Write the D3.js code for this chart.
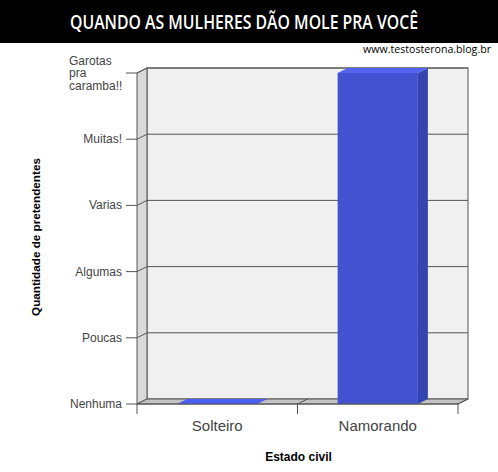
<!DOCTYPE html>
<html>
<head>
<meta charset="utf-8">
<script src="https://cdn.jsdelivr.net/npm/d3@7"></script>
<style>
  body { margin: 0; background: #fff; }
  svg { display: block; }
</style>
</head>
<body>
<div id="chart"></div>
<script>
// chart data
var categories = ["Solteiro", "Namorando"];
var values = [0, 5];
var levels = ["Nenhuma", "Poucas", "Algumas", "Varias", "Muitas!", "Garotas pra caramba!!"];
var title = "QUANDO AS MULHERES DÃO MOLE PRA VOCÊ";
var credit = "www.testosterona.blog.br";
var xTitle = "Estado civil";
var yTitle = "Quantidade de pretendentes";

var width = 498, height = 472;
var dx = 10, dy = 5; // 3d depth offset
var plotLeft = 137, plotRight = 458, plotBottom = 404, plotTop = 73;

var svg = d3.select("#chart").append("svg")
  .attr("width", width).attr("height", height)
  .style("font-family", "'Liberation Sans', Arial, sans-serif");

// header band
svg.append("rect").attr("x", 0).attr("y", 0).attr("width", width).attr("height", 43).attr("fill", "#000");
svg.append("text").attr("x", 244).attr("y", 28.5).attr("text-anchor", "middle")
  .attr("fill", "#fff").style("font-family", "'Open Sans', sans-serif").style("font-size", "19px")
  .style("font-weight", "600")
  .attr("textLength", 348).attr("lengthAdjust", "spacingAndGlyphs")
  .text(title);
svg.append("text").attr("x", 491).attr("y", 53).attr("text-anchor", "end")
  .attr("fill", "#000").style("font-family", "'Open Sans', sans-serif").style("font-size", "11px")
  .attr("textLength", 128).attr("lengthAdjust", "spacingAndGlyphs")
  .text(credit);

var x = d3.scaleBand().domain(categories).range([plotLeft, plotRight]).paddingInner(0.5).paddingOuter(0.25);
var y = d3.scaleLinear().domain([0, levels.length - 1]).range([plotBottom, plotTop]);
var ticks = d3.range(levels.length);
var yMax = levels.length - 1;

var line = "#555";

// back wall
svg.append("rect")
  .attr("x", plotLeft + dx).attr("y", y(yMax) - dy)
  .attr("width", plotRight - plotLeft).attr("height", y(0) - y(yMax))
  .attr("fill", "#f0f0f0").attr("stroke", line);

// left wall
svg.append("polygon")
  .attr("points", [[plotLeft, y(yMax)], [plotLeft + dx, y(yMax) - dy], [plotLeft + dx, y(0) - dy], [plotLeft, y(0)]].join(" "))
  .attr("fill", "#d9d9d9").attr("stroke", line);

// floor
svg.append("polygon")
  .attr("points", [[plotLeft, y(0)], [plotLeft + dx, y(0) - dy], [plotRight + dx, y(0) - dy], [plotRight, y(0)]].join(" "))
  .attr("fill", "#c3c3c3").attr("stroke", line);

// grid lines
svg.selectAll(".grid").data(ticks.slice(1)).enter().append("path")
  .attr("class", "grid")
  .attr("d", function (d) { return "M" + plotLeft + "," + y(d) + "L" + (plotLeft + dx) + "," + (y(d) - dy) + "H" + (plotRight + dx); })
  .attr("fill", "none").attr("stroke", line);

// y ticks
svg.selectAll(".ytick").data(ticks).enter().append("line")
  .attr("x1", plotLeft - 11).attr("x2", plotLeft).attr("y1", function (d) { return y(d); }).attr("y2", function (d) { return y(d); })
  .attr("stroke", line);

// y labels
svg.selectAll(".ylab").data(ticks).enter().append("text")
  .attr("class", "ylab")
  .attr("fill", "#444").style("font-size", "12px")
  .each(function (d) {
    var t = d3.select(this), label = levels[d];
    if (label.length > 12) {
      var words = label.split(" ");
      t.attr("text-anchor", "start");
      words.forEach(function (w, i) {
        t.append("tspan").attr("x", 69).attr("y", y(d) + 4 + (i - (words.length - 1) / 2) * 12.5).text(w);
      });
    } else {
      t.attr("text-anchor", "end").attr("x", plotLeft - 15).attr("y", y(d) + 4).text(label);
    }
  });

// x ticks
var xt = [plotLeft].concat(categories.map(function (c) { return x(c) + x.bandwidth() + x.step() * x.paddingInner() / 2; }));
xt[xt.length - 1] = plotRight;
svg.selectAll(".xtick").data(xt).enter().append("line")
  .attr("x1", function (d) { return d; }).attr("x2", function (d) { return d; })
  .attr("y1", y(0)).attr("y2", y(0) + 10).attr("stroke", line);
svg.selectAll(".xtickd").data(xt.slice(1)).enter().append("line")
  .attr("x1", function (d) { return d; }).attr("x2", function (d) { return d + dx; })
  .attr("y1", y(0)).attr("y2", y(0) - dy).attr("stroke", line);

// bars
var bars = svg.selectAll(".bar").data(values).enter().append("g").attr("class", "bar");
bars.each(function (v, i) {
  var g = d3.select(this);
  var x0 = x(categories[i]), w = x.bandwidth(), yt = y(v), yb = y(0);
  if (v > 0) {
    g.append("rect").attr("x", x0).attr("y", yt).attr("width", w).attr("height", yb - yt).attr("fill", "#4352d1");
    g.append("polygon")
      .attr("points", [[x0 + w, yt], [x0 + w + dx, yt - dy], [x0 + w + dx, yb - dy], [x0 + w, yb]].join(" "))
      .attr("fill", "#3444b0");
  }
  g.append("polygon")
    .attr("points", [[x0, yt], [x0 + dx, yt - dy], [x0 + w + dx, yt - dy], [x0 + w, yt]].join(" "))
    .attr("fill", v > 0 ? "#5264f0" : "#4b5ef2");
});

// front floor edge
svg.append("line").attr("x1", plotLeft).attr("x2", plotRight).attr("y1", y(0)).attr("y2", y(0)).attr("stroke", line);

// x labels
svg.selectAll(".xlab").data(categories).enter().append("text")
  .attr("x", function (d) { return x(d) + x.bandwidth() / 2; }).attr("y", 431)
  .attr("text-anchor", "middle").attr("fill", "#444").style("font-size", "15px")
  .text(function (d) { return d; });

// axis titles
svg.append("text").attr("x", (plotLeft + plotRight) / 2 + 1).attr("y", 461).attr("text-anchor", "middle")
  .style("font-size", "12px").style("font-weight", "bold").attr("fill", "#000").text(xTitle);
svg.append("text").attr("transform", "translate(40,237) rotate(-90)").attr("text-anchor", "middle")
  .style("font-size", "11.7px").style("font-weight", "bold").attr("fill", "#000").text(yTitle);
</script>
</body>
</html>
